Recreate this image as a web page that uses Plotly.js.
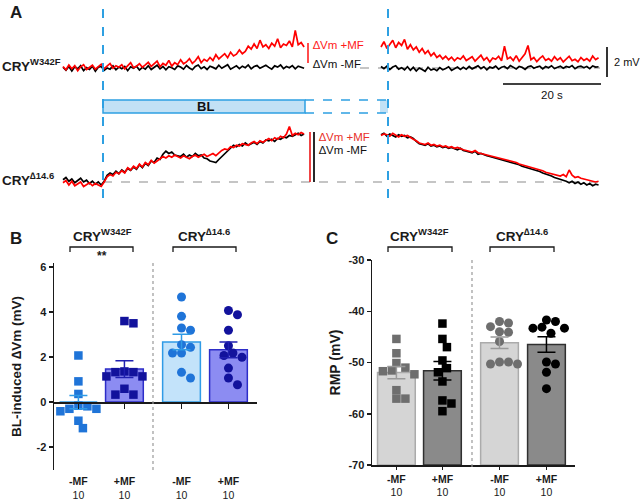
<!DOCTYPE html>
<html><head><meta charset="utf-8">
<script src="https://cdn.plot.ly/plotly-3.0.1.min.js"></script>
<style>html,body{margin:0;padding:0;background:#fff}#chart{width:640px;height:500px}</style>
</head><body><div id="chart"></div>
<script>
// ================= Panel A : membrane potential traces (mV) =================
const dtA = 0.6;          // sampling step, s
const seg1Start = 0;      // s
const seg2Start = 64.9;   // s
const topOffset = 7.6;    // mV, vertical offset of the CRY W342F traces

const topBlack1 = [0.05,-0.15,0.10,-0.20,0.08,-0.05,0.15,-0.18,0.02,-0.10,
 0.12,-0.22,0.05,0.10,-0.15,0.00,-0.08,0.14,-0.12,0.06,
 -0.05,0.10,-0.18,0.08,-0.02,0.12,-0.14,0.04,-0.08,0.15,
 -0.10,0.05,0.18,-0.06,0.10,-0.12,0.08,0.02,-0.10,0.14,
 0.06,-0.08,0.16,0.00,-0.12,0.10,0.20,-0.05,0.08,-0.10,
 0.12,0.04,-0.06,0.18,-0.02,0.10,0.22,-0.08,0.06,0.14,
 -0.04,0.12,0.02,0.20,-0.06,0.10,0.16,-0.02,0.08,0.18,
 0.04,-0.08,0.14,0.06,0.20,-0.04,0.10,0.02,0.16,-0.06,
 0.12,0.04,-0.02];
const topRed1 = [0.10,-0.12,0.20,-0.05,0.15,-0.18,0.08,0.22,-0.10,0.05,
 0.18,-0.08,0.12,0.25,-0.05,0.10,0.30,-0.02,0.15,0.05,
 0.22,-0.06,0.18,0.35,0.02,0.12,0.28,0.05,0.20,0.38,
 0.10,0.25,0.45,0.08,0.30,0.18,0.50,0.12,0.35,0.22,
 0.55,0.28,0.40,0.62,0.30,0.48,0.75,0.35,0.58,0.45,
 0.70,0.50,0.88,0.60,0.78,0.95,0.68,1.05,0.80,0.92,
 1.20,0.95,1.10,1.45,1.25,1.60,1.30,1.85,1.40,1.55,
 1.30,1.65,1.45,1.95,1.35,1.60,1.50,1.80,1.40,2.50,
 1.55,1.70,1.40];
const topBlack2 = [0.10,-0.05,0.12,-0.10,0.06,0.15,-0.08,0.02,-0.12,0.08,
 -0.15,0.04,-0.20,0.00,-0.10,-0.22,0.05,-0.14,-0.06,-0.18,
 0.02,-0.12,-0.04,0.08,-0.16,-0.02,0.06,-0.10,0.04,-0.08,
 0.10,-0.06,0.02,0.14,-0.04,0.08,-0.12,0.06,0.00,0.12,
 -0.08,0.05,0.10,-0.04,0.16,0.02,-0.06,0.10,0.04,-0.10,
 0.08,0.14,-0.02,0.06,0.12,-0.06,0.10,0.02,0.15,-0.04,
 0.06,0.12,-0.02,0.10,0.04,0.16,-0.05,0.08,0.12,0.02,
 0.10,-0.04,0.14,0.06,0.08];
const topRed2 = [1.40,1.75,1.30,1.60,1.85,1.35,1.70,1.50,1.90,1.25,
 1.55,1.20,1.40,1.05,1.30,0.95,1.15,0.80,1.00,0.70,
 0.85,0.60,0.78,0.55,0.72,0.48,0.68,0.58,0.80,0.50,
 0.65,0.75,0.45,0.62,0.85,0.52,0.70,0.40,0.66,0.58,
 0.78,0.48,1.45,0.60,0.72,0.50,0.82,0.45,0.68,0.95,
 1.50,0.55,0.70,0.42,0.64,0.80,0.50,0.62,0.45,0.75,
 0.52,0.68,0.40,0.60,0.78,0.48,0.58,0.42,0.70,0.50,
 0.62,0.45,0.80,0.55,0.68];
const botBlack1 = [0.15,0.30,0.05,0.20,-0.05,0.10,0.25,0.00,0.12,-0.10,
 0.05,-0.15,0.00,-0.20,0.05,0.45,0.60,0.50,0.72,0.55,
 0.80,0.65,0.90,0.78,1.00,0.85,1.15,0.95,1.25,1.10,
 1.40,1.30,1.60,1.50,1.85,2.05,1.90,2.00,1.80,1.75,
 1.70,1.85,1.65,1.80,1.70,1.90,1.75,1.80,1.60,1.55,
 1.40,1.35,1.30,1.50,1.70,1.90,2.10,2.30,2.45,2.35,
 2.50,2.40,2.60,2.45,2.55,2.65,2.50,2.70,2.60,2.80,
 2.75,2.85,2.70,2.90,2.85,3.00,2.95,3.10,3.05,3.15,
 3.25,3.10,3.20];
const botRed1 = [-0.05,0.10,-0.20,0.05,-0.25,-0.10,0.00,-0.30,-0.15,-0.05,
 -0.25,-0.10,-0.20,-0.30,0.00,0.35,0.50,0.40,0.65,0.55,
 0.75,0.60,0.95,0.80,1.05,0.90,1.20,1.00,1.30,1.15,
 1.45,1.25,1.40,1.55,1.70,1.60,1.75,1.65,1.80,1.70,
 1.60,1.75,1.65,1.55,1.70,1.80,1.65,1.75,1.85,1.70,
 1.80,1.90,1.75,1.95,2.10,2.20,2.15,2.35,2.30,2.45,
 2.40,2.55,2.50,2.45,2.60,2.70,2.55,2.75,2.65,2.80,
 2.90,2.75,2.95,2.85,3.05,2.95,3.20,3.70,3.10,3.25,
 3.15,3.30,3.20];
const botBlack2 = [3.15,3.25,3.05,3.20,3.10,3.00,3.15,3.05,3.10,2.95,
 3.00,2.90,2.70,2.55,2.50,2.45,2.55,2.40,2.45,2.35,
 2.40,2.30,2.35,2.25,2.30,2.20,2.15,2.25,2.10,2.05,
 2.00,1.95,2.05,1.85,1.90,1.80,1.75,1.70,1.65,1.60,
 1.55,1.50,1.45,1.40,1.35,1.30,1.20,1.15,1.05,1.00,
 0.95,0.85,0.80,0.75,0.70,0.60,0.55,0.45,0.40,0.30,
 0.25,0.15,0.10,0.05,-0.05,0.05,-0.10,0.00,-0.15,-0.05,
 -0.20,-0.10,-0.25,-0.15,-0.20];
const botRed2 = [3.10,3.20,3.15,3.05,3.25,3.10,3.00,3.15,3.05,3.10,
 2.95,2.85,2.75,2.60,2.55,2.50,2.60,2.45,2.50,2.40,
 2.45,2.35,2.40,2.30,2.35,2.25,2.30,2.20,2.15,2.10,
 2.05,2.00,2.10,1.95,1.90,1.85,1.80,1.75,1.70,1.70,
 1.60,1.55,1.55,1.45,1.40,1.35,1.30,1.20,1.15,1.10,
 1.05,0.95,0.90,0.85,0.80,0.75,0.65,0.60,0.55,0.50,
 0.45,0.40,0.50,0.35,0.80,0.45,0.30,0.35,0.25,0.20,
 0.15,0.10,0.05,0.00,0.05];

// ================= Panel B : BL-induced ΔVm (mV) =================
const catLabels = ['-MF','+MF','-MF','+MF'];
const nLabels = ['10','10','10','10'];
const bTicks = [-2,0,2,4,6];
const bW342Fminus = [2.07,0.92,0.36,-0.19,-0.30,-0.41,-0.30,-0.16,-0.83,-1.16];
const bW342Fplus  = [3.50,3.60,1.33,1.14,1.14,1.33,1.36,0.59,0.33,0.33];
const bD146minus  = [4.67,3.81,3.29,3.19,2.55,2.43,2.18,2.18,1.32,1.07];
const bD146plus   = [4.07,3.88,3.19,2.50,2.18,2.07,1.99,1.51,1.07,0.77];

// ================= Panel C : RMP (mV) =================
const cTicks = [-70,-60,-50,-40,-30];
const cW342Fminus = [-45.4,-48.2,-50.1,-51.0,-51.55,-51.7,-52.3,-55.4,-57.05,-57.05];
const cW342Fplus  = [-42.4,-45.4,-47.0,-49.6,-51.1,-51.9,-53.7,-57.4,-58.0,-59.5];
const cD146minus  = [-42.0,-42.3,-43.0,-44.0,-44.1,-45.9,-49.9,-50.3,-50.3,-49.9];
const cD146plus   = [-41.7,-42.0,-43.1,-43.3,-43.3,-44.3,-49.9,-50.3,-51.9,-55.1];

// ---------------- helpers ----------------
const P = x => x/640, Q = y => 1 - y/500;
const catPos = [0, 1, 2.24, 3.26];
const mean = v => v.reduce((a,b)=>a+b,0)/v.length;
const sem = v => { const m = mean(v); return Math.sqrt(v.reduce((a,b)=>a+(b-m)*(b-m),0)/(v.length-1))/Math.sqrt(v.length); };
function times(start, n){ return Array.from({length:n}, (_,i)=> +(start + i*dtA).toFixed(2)); }
function joinSeg(a, b, off){ return { x: times(seg1Start,a.length).concat([null], times(seg2Start,b.length)),
  y: a.map(v=>v+off).concat([null], b.map(v=>v+off)) }; }
function swarm(vals, pxX, pxY, d){
  const idx = vals.map((v,i)=>i).sort((a,b)=>vals[b]-vals[a]);
  const placed = [], off = new Array(vals.length).fill(0);
  idx.forEach(i=>{
    const y = vals[i]*pxY; let best = 0;
    for (let k=0;k<60;k++){
      const c = k===0?0:(k%2?1:-1)*Math.ceil(k/2)*d*0.5;
      if (placed.every(p=>Math.hypot(p.x-c,p.y-y)>=d*0.92)){ best=c; break; }
    }
    placed.push({x:best,y:y}); off[i]=best/pxX;
  });
  return off;
}

const traces = [];
// Panel A traces
[[topBlack1,topBlack2,topOffset,'#000000'],[topRed1,topRed2,topOffset,'#ff0000'],
 [botBlack1,botBlack2,0,'#000000'],[botRed1,botRed2,0,'#ff0000']].forEach(s=>{
  const d = joinSeg(s[0],s[1],s[2]);
  traces.push({type:'scatter',mode:'lines',x:d.x,y:d.y,xaxis:'x',yaxis:'y',
    line:{color:s[3],width:1.7},connectgaps:false,hoverinfo:'skip'});
});

function panel(groups, xa, ya, fills, lines, ptCols, errCols, syms, pxY, base){
  const means = groups.map(mean), sems = groups.map(sem);
  traces.push({type:'bar',x:catPos,y:means.map(m=>m-base),base:base,width:0.82,xaxis:xa,yaxis:ya,
    marker:{color:fills,line:{color:lines,width:1.5}},hoverinfo:'skip'});
  groups.forEach((g,k)=>{
    const off = swarm(g,46,pxY,9);
    traces.push({type:'scatter',mode:'markers',x:g.map((v,i)=>catPos[k]+off[i]),y:g,xaxis:xa,yaxis:ya,
      marker:{symbol:syms[k],size:syms[k]==='square'?8.5:9,color:ptCols[k]},hoverinfo:'skip'});
  });
  groups.forEach((g,k)=>{
    traces.push({type:'scatter',mode:'markers',x:[catPos[k]],y:[means[k]],xaxis:xa,yaxis:ya,
      marker:{size:2,color:'rgba(0,0,0,0)'},
      error_y:{type:'data',array:[sems[k]],visible:true,color:errCols[k],thickness:1.5,width:9},hoverinfo:'skip'});
  });
}
panel([bW342Fminus,bW342Fplus,bD146minus,bD146plus],'x2','y2',
  ['#c3e3fa','#8c8cf2','#c3e3fa','#8c8cf2'],['#2f9be6','#2d2dc8','#2f9be6','#2d2dc8'],
  ['#1f74d8','#12129c','#1f74d8','#12129c'],['#2f9be6','#2020b0','#2f9be6','#2020b0'],
  ['square','square','circle','circle'],22.5,0);
panel([cW342Fminus,cW342Fplus,cD146minus,cD146plus],'x3','y3',
  ['#d5d5d5','#8a8a8a','#d5d5d5','#8a8a8a'],['#ababab','#303030','#ababab','#303030'],
  ['#6e6e6e','#000000','#6e6e6e','#000000'],['#9a9a9a','#000000','#9a9a9a','#000000'],
  ['square','square','circle','circle'],5.15,-70);

const tickText = catLabels.map((c,i)=>'<b>'+c+'</b><br>'+nLabels[i]);
const bold = v => '<b>'+v+'</b>';
const FONT = 'Arial, "Liberation Sans", sans-serif';
const ink = '#1a1a1a';

// ---------------- shapes ----------------
const shapes = [];
function line(x0,y0,x1,y1,color,width,dash,layer){
  shapes.push({type:'line',xref:'paper',yref:'paper',x0:P(x0),y0:Q(y0),x1:P(x1),y1:Q(y1),
    line:{color:color,width:width,dash:dash||'solid'},layer:layer||'above'});
}
function rect(x0,y0,x1,y1,fill,lc,lw){
  shapes.push({type:'rect',xref:'paper',yref:'paper',x0:P(x0),y0:Q(y0),x1:P(x1),y1:Q(y1),
    fillcolor:fill,line:{color:lc||'rgba(0,0,0,0)',width:lw||0},layer:'below'});
}
function bracket(x0,x1,y,h){
  shapes.push({type:'path',xref:'paper',yref:'paper',
    path:`M ${P(x0)} ${Q(y+h)} L ${P(x0)} ${Q(y)} L ${P(x1)} ${Q(y)} L ${P(x1)} ${Q(y+h)}`,
    line:{color:ink,width:1.3}});
}
const blue = '#2ea0e2';
// baselines (gray dashed)
line(360,68,600,68,'#8c8c8c',1.2,'dash','below');
line(103,182,600,182,'#8c8c8c',1.2,'dash','below');
// BL bar
rect(103,100,305,113,'#c2e1f5',blue,1.5);
rect(380,100,388,113,'#c2e1f5');
line(305,100,388,100,blue,1.5,'dash');
line(305,113,388,113,blue,1.5,'dash');
// BL on/off dashed lines
line(103,9,103,205,blue,2,'dash');
line(388,9,388,205,blue,2,'dash');
// ΔVm bars
line(308,43,308,63,'#ff2020',1.6);
line(310,132,310,182,'#ee3030',1.8);
line(314,132,314,182,'#111111',1.8);
// scale bars
line(607,47,607,77,'#000',1.6);
line(503,84,601,84,'#000',1.6);
// group separators B, C
line(153,263,153,470,'#999999',1.2,'dot');
line(472,260,472,467,'#999999',1.2,'dot');
// brackets
bracket(70,133,247,5); bracket(173,236,247,5);
bracket(388,452,247,5); bracket(490,554,247,5);

// ---------------- annotations ----------------
const ann = [];
function txt(x,y,t,size,color,xanchor){
  ann.push({xref:'paper',yref:'paper',x:P(x),y:Q(y),text:t,showarrow:false,
    xanchor:xanchor||'center',yanchor:'middle',font:{family:FONT,size:size,color:color||ink}});
}
txt(16,12,'<b>A</b>',17);
txt(16,238,'<b>B</b>',17);
txt(332,238,'<b>C</b>',17);
txt(0,65,'<b>CRY<sup>W342F</sup></b>',13.5,ink,'left');
txt(0,179,'<b>CRY<sup>∆14.6</sup></b>',13.5,ink,'left');
txt(311,45,'∆Vm +MF',11.5,'#ff1a1a','left');
txt(311,64,'∆Vm -MF',11.5,'#111','left');
txt(317,137,'∆Vm +MF',11.5,'#e8302a','left');
txt(317,150,'∆Vm -MF',11.5,'#111','left');
txt(612,62,'2 mV',11,'#111','left');
txt(552,95,'20 s',11.5,'#111');
txt(205,107,'<b>BL</b>',13,'#111');
txt(102,235,'<b>CRY<sup>W342F</sup></b>',13.5);
txt(204,235,'<b>CRY<sup>∆14.6</sup></b>',13.5);
txt(102,256,'<b>**</b>',12);
txt(419,235,'<b>CRY<sup>W342F</sup></b>',13.5);
txt(522,235,'<b>CRY<sup>∆14.6</sup></b>',13.5);

const axCommon = {showline:true,linecolor:ink,linewidth:1.5,ticks:'outside',tickcolor:ink,tickwidth:1.5,
  showgrid:false,zeroline:false,fixedrange:true};
const layout = {
  width:640,height:500,margin:{l:0,r:0,t:0,b:0},paper_bgcolor:'#ffffff',plot_bgcolor:'rgba(0,0,0,0)',
  showlegend:false,font:{family:FONT,color:ink},
  xaxis:{domain:[0,1],range:[-12.86,117.76],visible:false,fixedrange:true},
  yaxis:{domain:[0.57,1],range:[-2.2,12.13],visible:false,fixedrange:true},
  xaxis2:Object.assign({},axCommon,{domain:[P(54),P(257)],range:[-0.53,3.88],anchor:'free',position:Q(402),
    tickvals:catPos,ticktext:tickText,ticklen:5,tickfont:{size:10.5,color:ink},ticklabelstandoff:64}),
  yaxis2:Object.assign({},axCommon,{domain:[Q(470),Q(263)],range:[-3.02,6.18],anchor:'x2',
    tickvals:bTicks,ticktext:bTicks.map(bold),ticklen:4,tickfont:{size:11,color:ink},
    title:{text:'<b>BL-induced ∆Vm (mV)</b>',font:{size:13.5,color:ink},standoff:12}}),
  xaxis3:Object.assign({},axCommon,{domain:[P(372),P(575)],range:[-0.53,3.88],anchor:'y3',
    tickvals:catPos,ticktext:tickText,ticklen:3.5,tickfont:{size:10.5,color:ink},ticklabelstandoff:0}),
  yaxis3:Object.assign({},axCommon,{domain:[Q(465),Q(260)],range:[-70,-30],anchor:'x3',
    tickvals:cTicks,ticktext:cTicks.map(bold),ticklen:4,tickfont:{size:11,color:ink},
    title:{text:'<b>RMP (mV)</b>',font:{size:14,color:ink},standoff:4}}),
  shapes:shapes,annotations:ann
};
Plotly.newPlot('chart',traces,layout,{staticPlot:true,displayModeBar:false});
</script></body></html>
